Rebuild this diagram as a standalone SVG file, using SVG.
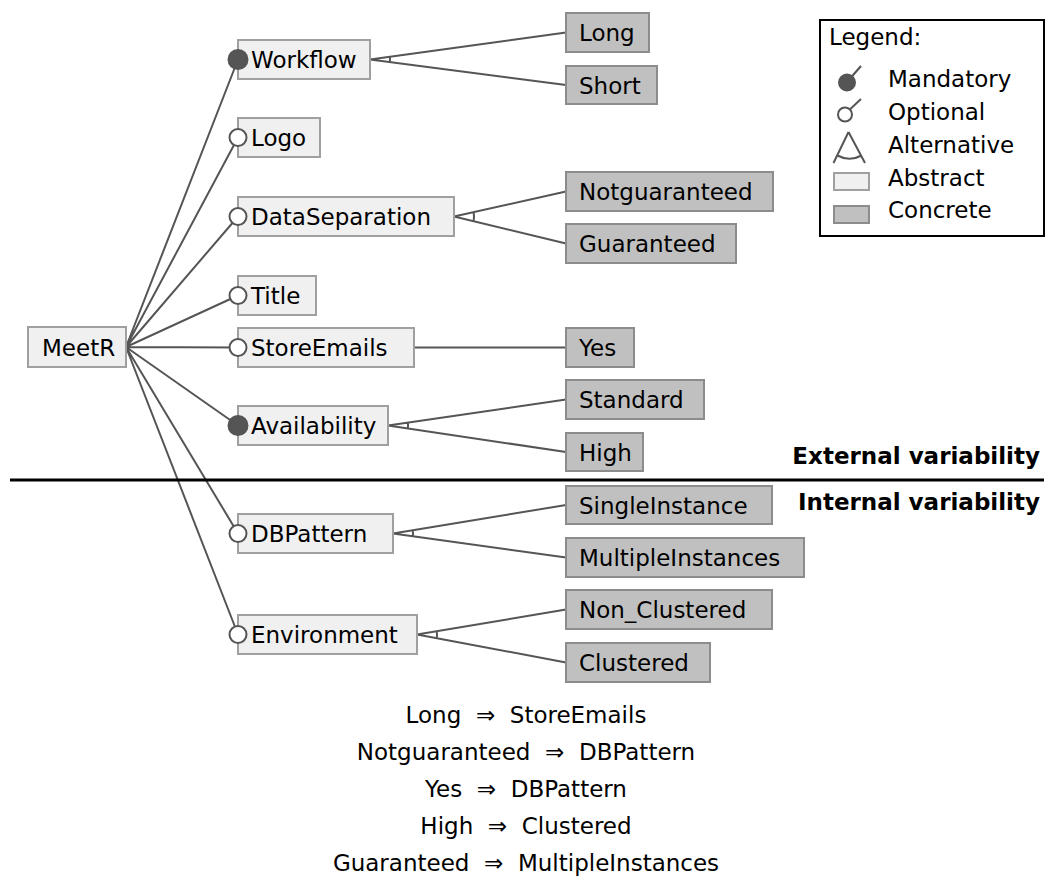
<svg xmlns="http://www.w3.org/2000/svg" width="1054" height="878" viewBox="0 0 1054 878">
<style>
text{font-family:"DejaVu Sans",sans-serif;font-size:23px;fill:#000}
.abs{fill:#f0f0f0;stroke:#a0a0a0;stroke-width:2}
.con{fill:#c0c0c0;stroke:#8c8c8c;stroke-width:2}
.ln{stroke:#555;stroke-width:2;fill:none}
.man{fill:#555;stroke:#555;stroke-width:2}
.opt{fill:#fff;stroke:#555;stroke-width:2}
.bold{font-weight:bold;font-size:23px}
.cst{text-anchor:middle}
</style>
<rect width="1054" height="878" fill="#fff"/>
<g id="connectors">
<path class="ln" d="M126,347 L238,59.5 M126,347 L238,137.5 M126,347 L238,216.5 M126,347 L238,295.5 M126,347 L238,347.5 M126,347 L238,425.5 M126,347 L238,533.5 M126,347 L238,634.5"/>
<path class="ln" d="M370,59.5 L566,32.5 M370,59.5 L566,85 M389.8,56.8 A20,20 0 0 1 389.8,62.1"/>
<path class="ln" d="M454,216.5 L566,191.5 M454,216.5 L566,243.5 M473.5,212.1 A20,20 0 0 1 473.4,221.2"/>
<path class="ln" d="M414,347.5 L566,347.5"/>
<path class="ln" d="M388,425.5 L566,399.5 M388,425.5 L566,452 M407.8,422.6 A20,20 0 0 1 407.8,428.5"/>
<path class="ln" d="M393,533.5 L566,505 M393,533.5 L566,557.5 M412.7,530.3 A20,20 0 0 1 412.8,536.3"/>
<path class="ln" d="M417,634.5 L566,609.5 M417,634.5 L566,662.5 M436.7,631.2 A20,20 0 0 1 436.7,638.2"/>
</g>
<g id="MeetR"><rect class="abs" x="28" y="327" width="98" height="40"/><text x="42" y="355.5">MeetR</text></g>
<g id="Workflow"><rect class="abs" x="238" y="40" width="132" height="39"/><text x="251" y="68">Workflow</text><circle class="man" cx="238" cy="59.5" r="9.5"/></g>
<g id="Long"><rect class="con" x="566" y="13" width="83" height="39"/><text x="579" y="41">Long</text></g>
<g id="Short"><rect class="con" x="566" y="66" width="91" height="38"/><text x="579" y="93.5">Short</text></g>
<g id="Logo"><rect class="abs" x="238" y="118" width="82" height="39"/><text x="251" y="146">Logo</text><circle class="opt" cx="238" cy="137.5" r="8.5"/></g>
<g id="DataSeparation"><rect class="abs" x="238" y="197" width="216" height="39"/><text x="251" y="225">DataSeparation</text><circle class="opt" cx="238" cy="216.5" r="8.5"/></g>
<g id="Notguaranteed"><rect class="con" x="566" y="172" width="207" height="39"/><text x="579" y="200">Notguaranteed</text></g>
<g id="Guaranteed"><rect class="con" x="566" y="224" width="170" height="39"/><text x="579" y="252">Guaranteed</text></g>
<g id="Title"><rect class="abs" x="238" y="276" width="78" height="39"/><text x="251" y="304">Title</text><circle class="opt" cx="238" cy="295.5" r="8.5"/></g>
<g id="StoreEmails"><rect class="abs" x="238" y="328" width="176" height="39"/><text x="251" y="356">StoreEmails</text><circle class="opt" cx="238" cy="347.5" r="8.5"/></g>
<g id="Yes"><rect class="con" x="566" y="328" width="68" height="39"/><text x="579" y="356">Yes</text></g>
<g id="Availability"><rect class="abs" x="238" y="406" width="150" height="39"/><text x="251" y="434">Availability</text><circle class="man" cx="238" cy="425.5" r="9.5"/></g>
<g id="Standard"><rect class="con" x="566" y="380" width="138" height="39"/><text x="579" y="408">Standard</text></g>
<g id="High"><rect class="con" x="566" y="433" width="77" height="38"/><text x="579" y="460.5">High</text></g>
<g id="DBPattern"><rect class="abs" x="238" y="514" width="155" height="39"/><text x="251" y="542">DBPattern</text><circle class="opt" cx="238" cy="533.5" r="8.5"/></g>
<g id="SingleInstance"><rect class="con" x="566" y="486" width="206" height="38"/><text x="579" y="513.5">SingleInstance</text></g>
<g id="MultipleInstances"><rect class="con" x="566" y="538" width="238" height="39"/><text x="579" y="566">MultipleInstances</text></g>
<g id="Environment"><rect class="abs" x="238" y="615" width="179" height="39"/><text x="251" y="643">Environment</text><circle class="opt" cx="238" cy="634.5" r="8.5"/></g>
<g id="Non_Clustered"><rect class="con" x="566" y="590" width="206" height="39"/><text x="579" y="618">Non_Clustered</text></g>
<g id="Clustered"><rect class="con" x="566" y="643" width="144" height="39"/><text x="579" y="671">Clustered</text></g>
<g id="separator">
<line x1="10" y1="480" x2="1044" y2="480" stroke="#000" stroke-width="3"/>
<text class="bold" x="1040" y="464" text-anchor="end">External variability</text>
<text class="bold" x="1040" y="510" text-anchor="end">Internal variability</text>
</g>
<g id="legend">
<rect x="820" y="20" width="224" height="216" fill="#fff" stroke="#000" stroke-width="2"/>
<text x="829" y="45">Legend:</text>
<line x1="847" y1="82" x2="861" y2="66" stroke="#555" stroke-width="2"/>
<circle class="man" cx="847" cy="82.5" r="8"/>
<text x="888" y="87">Mandatory</text>
<line x1="845" y1="114" x2="861" y2="99" stroke="#555" stroke-width="2"/>
<circle class="opt" cx="845" cy="114.5" r="7"/>
<text x="888" y="120">Optional</text>
<path class="ln" d="M848.5,132 L833.5,163 M848.5,132 L865,163 M837.5,155.5 A25,25 0 0 0 861.5,155.5"/>
<text x="888" y="153">Alternative</text>
<rect class="abs" x="834" y="173" width="35" height="17"/>
<text x="888" y="186">Abstract</text>
<rect class="con" x="834" y="206" width="35" height="17"/>
<text x="888" y="218">Concrete</text>
</g>
<g id="constraints">
<text class="cst" x="526" y="723">Long&#160;&#160;⇒&#160;&#160;StoreEmails</text>
<text class="cst" x="526" y="760">Notguaranteed&#160;&#160;⇒&#160;&#160;DBPattern</text>
<text class="cst" x="526" y="797">Yes&#160;&#160;⇒&#160;&#160;DBPattern</text>
<text class="cst" x="526" y="834">High&#160;&#160;⇒&#160;&#160;Clustered</text>
<text class="cst" x="526" y="871">Guaranteed&#160;&#160;⇒&#160;&#160;MultipleInstances</text>
</g>
</svg>
